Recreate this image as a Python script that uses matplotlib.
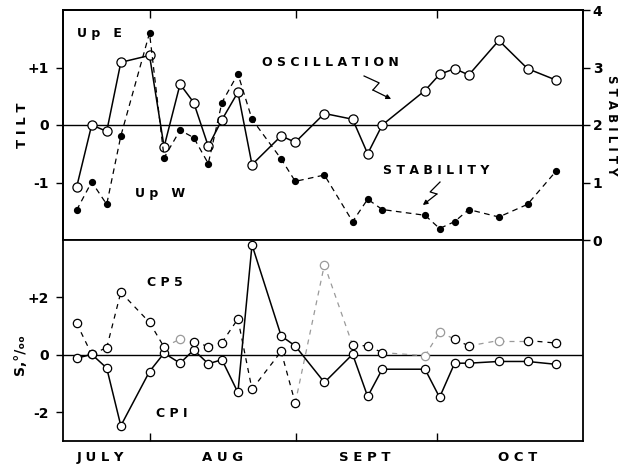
import matplotlib
matplotlib.use("Agg")
import matplotlib.pyplot as plt
from matplotlib.transforms import blended_transform_factory

# ---- data (days counted from July 1 = 0) ----
days = [15.3, 18.5, 21.7, 24.7, 30.8, 33.9, 37.3, 40.2, 43.3, 46.2, 49.6, 52.6,
        58.8, 61.8, 68.0, 74.0, 77.2, 80.3, 89.4, 92.5, 95.7, 98.7, 105.1, 111.2, 117.3]

# top panel: tilt oscillation (left axis) and stability (right axis)
oscillation = [-1.08, 0.0, -0.11, 1.09, 1.21, -0.38, 0.71, 0.39, -0.37, 0.09, 0.57, -0.69,
               -0.19, -0.30, 0.20, 0.10, -0.50, 0.0, 0.60, 0.88, 0.98, 0.87, 1.47, 0.98, 0.78]
stability = [0.52, 1.01, 0.62, 1.81, 3.60, 1.43, 1.91, 1.78, 1.33, 2.39, 2.89, 2.10,
             1.41, 1.02, 1.13, 0.32, 0.71, 0.53, 0.43, 0.20, 0.32, 0.53, 0.40, 0.62, 1.20]

# bottom panel: salinity anomaly at CP1 and CP5
cp1 = [-0.12, 0.02, -0.46, -2.47, -0.58, 0.06, -0.29, 0.17, -0.31, -0.17, -1.31, 3.83,
       0.66, 0.31, -0.96, 0.02, -1.45, -0.50, -0.50, -1.48, -0.29, -0.29, -0.23, -0.23, -0.33]
cp5 = [1.10, 0.02, 0.25, 2.18, 1.13, 0.27, 0.55, 0.46, 0.29, 0.43, 1.25, -1.20,
       0.12, -1.68, 3.14, 0.34, 0.31, 0.08, -0.03, 0.79, 0.55, 0.31, 0.50, 0.50, 0.41]
cp5_faint = [6, 14, 18, 19, 22]   # points printed faintly in the original

month_ticks = [31, 62, 92]
month_names = ["J U L Y", "A U G", "S E P T", "O C T"]
month_label_days = [20.3, 46.4, 76.5, 109.0]

tilt_ticks = [-1, 0, 1]
tilt_labels = ["-1", "0", "+1"]
stab_ticks = [0, 1, 2, 3, 4]
sal_ticks = [-2, 0, 2]
sal_labels = ["-2", "0", "+2"]

# ---- figure ----
fig = plt.figure(figsize=(6.19, 4.66), dpi=100)
W, H = 619, 466
ax1 = fig.add_axes([63 / W, 1 - 240 / H, 520 / W, 230 / H])
ax2 = fig.add_axes([63 / W, 1 - 441 / H, 520 / W, 201 / H])
ax1r = ax1.twinx()

xlim = (12.4, 123.0)
bold = dict(fontweight="bold", fontfamily="DejaVu Sans")

# top panel
ax1.axhline(0, color="k", lw=1.0, zorder=1)
ax1.plot(days, oscillation, "-", color="k", lw=1.1, marker="o", ms=6.6,
         mfc="white", mec="k", mew=0.9, zorder=3)
ax1r.plot(days, stability, ls=(0, (4.5, 3.5)), color="k", lw=0.9, marker="o",
          ms=4.2, mfc="k", mec="k", zorder=3)
ax1.set_xlim(*xlim)
ax1.set_ylim(-2, 2)
ax1r.set_ylim(0, 4)
ax1.set_yticks(tilt_ticks)
ax1.set_yticklabels(tilt_labels, fontsize=10, **bold)
ax1r.set_yticks(stab_ticks)
ax1r.set_yticklabels([str(t) for t in stab_ticks], fontsize=10, **bold)
ax1.set_xticks(month_ticks)
ax1.tick_params(axis="x", top=True, bottom=False, direction="in", length=6,
                labelbottom=False, width=1.0)
ax1.tick_params(axis="y", direction="out", length=5, width=1.0, pad=5)
ax1r.tick_params(axis="y", direction="out", length=5, width=1.0, pad=2)
for a in (ax1, ax1r):
    for s in a.spines.values():
        s.set_linewidth(1.3)

ax1.text(0.071, 0.896, "U p   E", transform=ax1.transAxes, ha="center", va="center",
         fontsize=9, **bold)
ax1.text(0.187, 0.204, "U p   W", transform=ax1.transAxes, ha="center", va="center",
         fontsize=9, **bold)
ax1.text(0.515, 0.77, "O S C I L L A T I O N", transform=ax1.transAxes, ha="center",
         va="center", fontsize=9, **bold)
ax1.text(0.717, 0.304, "S T A B I L I T Y", transform=ax1.transAxes, ha="center",
         va="center", fontsize=9, **bold)

# lightning-style pointer arrows
for pts in ([(0.579, 0.713), (0.608, 0.683), (0.596, 0.652), (0.631, 0.613)],
            [(0.725, 0.252), (0.706, 0.209), (0.719, 0.200), (0.692, 0.152)]):
    xs = [p[0] for p in pts[:-1]]
    ys = [p[1] for p in pts[:-1]]
    ax1.plot(xs, ys, color="k", lw=0.9, transform=ax1.transAxes)
    ax1.annotate("", xy=pts[-1], xytext=pts[-2], xycoords="axes fraction",
                 textcoords="axes fraction",
                 arrowprops=dict(arrowstyle="-|>", color="k", lw=0.9,
                                 mutation_scale=7, shrinkA=0, shrinkB=0))

# bottom panel
ax2.axhline(0, color="k", lw=1.0, zorder=1)
ax2.plot(days, cp1, "-", color="k", lw=1.1, marker="o", ms=6.0,
         mfc="white", mec="k", mew=0.9, zorder=3)
grey = "#9a9a9a"
for i in range(len(days) - 1):
    c = grey if (i in cp5_faint or i + 1 in cp5_faint) else "k"
    ax2.plot(days[i:i + 2], cp5[i:i + 2], ls=(0, (4, 4)), color=c, lw=0.9, zorder=2)
for i, (d, v) in enumerate(zip(days, cp5)):
    c = grey if i in cp5_faint else "k"
    ax2.plot([d], [v], marker="o", ms=6.0, mfc="white", mec=c, mew=0.9, zorder=4,
             ls="none")
ax2.set_xlim(*xlim)
ax2.set_ylim(-3, 4)
ax2.set_yticks(sal_ticks)
ax2.set_yticklabels(sal_labels, fontsize=10, **bold)
ax2.set_xticks(month_ticks)
ax2.tick_params(axis="x", bottom=True, top=False, direction="in", length=6,
                labelbottom=False, width=1.0)
ax2.tick_params(axis="y", direction="out", length=5, width=1.0, pad=5)
for s in ax2.spines.values():
    s.set_linewidth(1.3)
ax2.spines["top"].set_visible(False)

ax2.text(0.196, 0.791, "C P 5", transform=ax2.transAxes, ha="center", va="center",
         fontsize=9, **bold)
ax2.text(0.21, 0.139, "C P I", transform=ax2.transAxes, ha="center", va="center",
         fontsize=9, **bold)

tr = blended_transform_factory(ax2.transData, ax2.transAxes)
for name, d in zip(month_names, month_label_days):
    ax2.text(d, -0.08, name, transform=tr, ha="center", va="center", fontsize=9.5, **bold)

fig.text(22 / W, 1 - 125 / H, "T I L T", rotation=90, ha="center", va="center",
         fontsize=9.5, **bold)
fig.text(611 / W, 1 - 125 / H, "S T A B I L I T Y", rotation=-90, ha="center",
         va="center", fontsize=8.5, **bold)
fig.text(20 / W, 1 - 355 / H, "S,°/ₒₒ", rotation=90, ha="center", va="center",
         fontsize=10, **bold)

fig.savefig("out.png", dpi=100, facecolor="white")
